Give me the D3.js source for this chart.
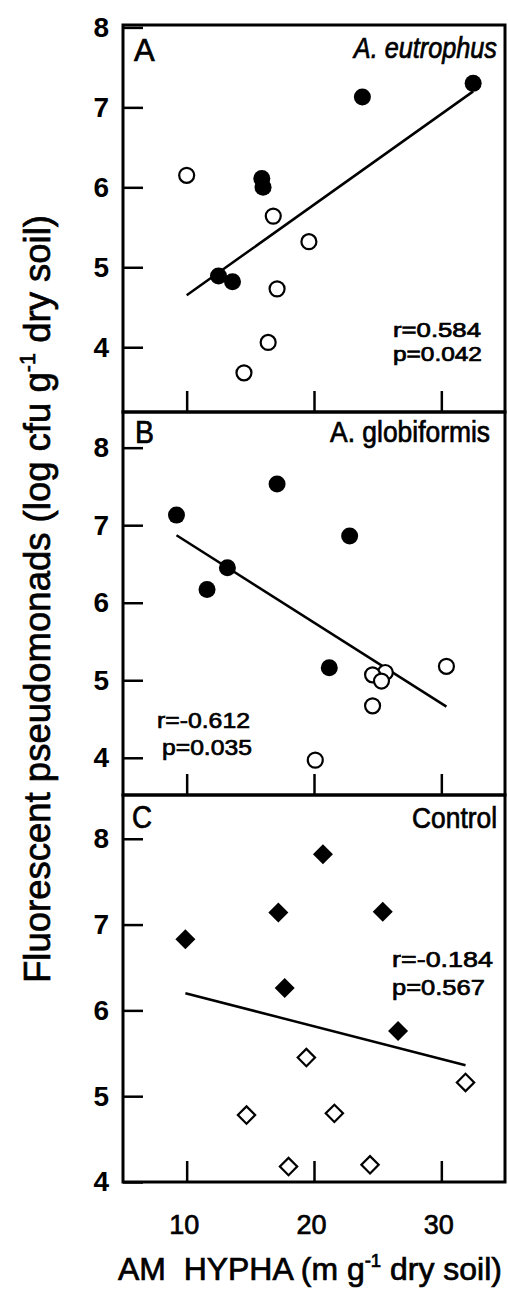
<!DOCTYPE html>
<html>
<head>
<meta charset="utf-8">
<script src="https://cdn.jsdelivr.net/npm/d3@7"></script>
<style>
  body { margin: 0; background: #fff; }
  text { font-family: "Liberation Sans", Arial, sans-serif; fill: #000; }
  .heavy { stroke: #000; stroke-width: 0.7px; }
</style>
</head>
<body>
<svg id="chart" width="508" height="1296"></svg>
<script>
// values (x = AM hypha, y = log cfu)
const aFilledX = [32.5, 23.8, 15.9, 16.0, 12.5, 13.6];
const aFilledY = [7.30, 7.13, 6.11, 6.00, 4.89, 4.82];
const aOpenX = [10.0, 16.8, 19.6, 17.1, 16.4, 14.5];
const aOpenY = [6.15, 5.64, 5.32, 4.73, 4.06, 3.68];
const aFitX = [10.0, 32.5];
const aFitY = [4.65, 7.20];

const bFilledX = [9.2, 17.1, 22.8, 13.2, 11.6, 21.2];
const bFilledY = [7.13, 7.53, 6.86, 6.45, 6.17, 5.16];
const bOpenX = [30.4, 25.6, 24.6, 25.3, 24.6, 20.1];
const bOpenY = [5.18, 5.10, 5.07, 4.99, 4.67, 3.97];
const bFitX = [9.2, 30.4];
const bFitY = [6.87, 4.66];

const cFilledX = [9.9, 17.2, 20.7, 25.4, 17.7, 26.6];
const cFilledY = [6.83, 7.14, 7.82, 7.15, 6.26, 5.76];
const cOpenX = [19.4, 31.9, 14.7, 21.6, 18.0, 24.4];
const cOpenY = [5.45, 5.16, 4.78, 4.80, 4.18, 4.20];
const cFitX = [9.9, 31.9];
const cFitY = [6.20, 5.36];

const xTicks = [10, 20, 30];
const yTicks = [4, 5, 6, 7, 8];
const panelLetters = ["A", "B", "C"];
const panelNames = ["A. eutrophus", "A. globiformis", "Control"];
const rTexts = ["r=0.584", "r=-0.612", "r=-0.184"];
const pTexts = ["p=0.042", "p=0.035", "p=0.567"];

const svg = d3.select("#chart");
const left = 123, right = 505;
const x = d3.scaleLinear().domain([5, 35]).range([left, right]);

const zip = (xs, ys) => xs.map((v, i) => [v, ys[i]]);

// squeeze/stretch a text element to the width measured on the figure
function fitText(t, tx, ty, width) {
  const w = t.node().getBBox().width;
  t.attr("transform", `translate(${tx},${ty}) scale(${width / w},1)`);
  return t;
}

const panels = [
  { top: 25, bottom: 412, dom: [3.19, 8.03], filled: zip(aFilledX, aFilledY), open: zip(aOpenX, aOpenY), fit: zip(aFitX, aFitY), shape: "circle",
    letter: [134, 61, 21], name: [497, 58, 145, true], r: [393, 337, 88], p: [393, 361, 89], statSize: 20 },
  { top: 412, bottom: 795, dom: [3.52, 8.46], filled: zip(bFilledX, bFilledY), open: zip(bOpenX, bOpenY), fit: zip(bFitX, bFitY), shape: "circle",
    letter: [135, 443, 19], name: [490, 442, 160, false], r: [157, 728, 93], p: [162, 755, 90], statSize: 22.5 },
  { top: 795, bottom: 1182, dom: [4.0, 8.51], filled: zip(cFilledX, cFilledY), open: zip(cOpenX, cOpenY), fit: zip(cFitX, cFitY), shape: "diamond",
    letter: [132, 828, 20], name: [497, 828, 85, false], r: [392, 967, 101], p: [392, 995, 93], statSize: 22.5 }
];

panels.forEach((pn, i) => {
  const y = d3.scaleLinear().domain(pn.dom).range([pn.bottom, pn.top]);
  const g = svg.append("g");

  // y axis, ticks pointing inward
  const ya = g.append("g").attr("transform", `translate(${left},0)`)
    .call(d3.axisLeft(y).tickValues(yTicks).tickSize(-20).tickPadding(14).tickFormat(d3.format("d")));
  ya.select(".domain").remove();
  ya.selectAll(".tick line").attr("stroke", "#000").attr("stroke-width", 2.5);
  ya.selectAll(".tick text").attr("font-size", 28).attr("font-weight", "bold")
    .attr("font-family", "'Liberation Sans', Arial, sans-serif").attr("fill", "#000");

  // x axis, ticks pointing up
  const xa = g.append("g").attr("transform", `translate(0,${pn.bottom})`)
    .call(d3.axisBottom(x).tickValues(xTicks).tickSize(-21).tickPadding(33)
      .tickFormat(i === 2 ? d3.format("d") : () => ""));
  xa.select(".domain").remove();
  xa.selectAll(".tick line").attr("stroke", "#000").attr("stroke-width", 2.5);
  xa.selectAll(".tick text").attr("font-size", 27).attr("class", "heavy")
    .attr("font-family", "'Liberation Sans', Arial, sans-serif").attr("fill", "#000")
    .attr("dx", -3);

  // frame
  g.append("rect").attr("x", left).attr("y", pn.top)
    .attr("width", right - left).attr("height", pn.bottom - pn.top)
    .attr("fill", "none").attr("stroke", "#000").attr("stroke-width", 3);

  // regression line
  g.append("path").datum(pn.fit)
    .attr("d", d3.line().x(d => x(d[0])).y(d => y(d[1])))
    .attr("fill", "none").attr("stroke", "#000").attr("stroke-width", 2.5);

  if (pn.shape === "circle") {
    g.selectAll(".open").data(pn.open).join("circle").attr("class", "open")
      .attr("cx", d => x(d[0])).attr("cy", d => y(d[1])).attr("r", 7.5)
      .attr("fill", "#fff").attr("stroke", "#000").attr("stroke-width", 2.2);
    g.selectAll(".filled").data(pn.filled).join("circle").attr("class", "filled")
      .attr("cx", d => x(d[0])).attr("cy", d => y(d[1])).attr("r", 8.5)
      .attr("fill", "#000");
  } else {
    g.selectAll(".open").data(pn.open).join("path").attr("class", "open")
      .attr("d", d3.symbol(d3.symbolSquare).size(150)())
      .attr("transform", d => `translate(${x(d[0])},${y(d[1])}) rotate(45)`)
      .attr("fill", "#fff").attr("stroke", "#000").attr("stroke-width", 2.2);
    g.selectAll(".filled").data(pn.filled).join("path").attr("class", "filled")
      .attr("d", d3.symbol(d3.symbolSquare).size(200)())
      .attr("transform", d => `translate(${x(d[0])},${y(d[1])}) rotate(45)`)
      .attr("fill", "#000");
  }

  // panel texts
  const lt = g.append("text").text(panelLetters[i]).attr("font-size", 31).attr("class", "heavy");
  fitText(lt, pn.letter[0], pn.letter[1], pn.letter[2]);

  const nt = g.append("text").text(panelNames[i]).attr("font-size", 29).attr("class", "heavy")
    .attr("text-anchor", "end").attr("font-style", pn.name[3] ? "italic" : "normal");
  fitText(nt, pn.name[0], pn.name[1], pn.name[2]);

  const rt = g.append("text").text(rTexts[i]).attr("font-size", pn.statSize).attr("class", "heavy");
  fitText(rt, pn.r[0], pn.r[1], pn.r[2]);
  const pt = g.append("text").text(pTexts[i]).attr("font-size", pn.statSize).attr("class", "heavy");
  fitText(pt, pn.p[0], pn.p[1], pn.p[2]);
});

// x axis title
const xt = svg.append("text").attr("font-size", 31).attr("class", "heavy");
xt.append("tspan").text("AM\u00a0\u00a0HYPHA (m g");
xt.append("tspan").text("-1").attr("font-size", 18).attr("dy", -13);
xt.append("tspan").text(" dry soil)").attr("dy", 13);
fitText(xt, 118, 1280, 384);

// y axis title
const ytl = svg.append("text").attr("font-size", 37).attr("text-anchor", "middle").attr("class", "heavy");
ytl.append("tspan").text("Fluorescent pseudomonads (log cfu g");
ytl.append("tspan").text("-1").attr("font-size", 22).attr("dy", -15);
ytl.append("tspan").text(" dry soil)").attr("dy", 15);
const yw = ytl.node().getBBox().width;
ytl.attr("transform", `translate(50,599) rotate(-90) scale(${768 / yw},1)`);
</script>
</body>
</html>
